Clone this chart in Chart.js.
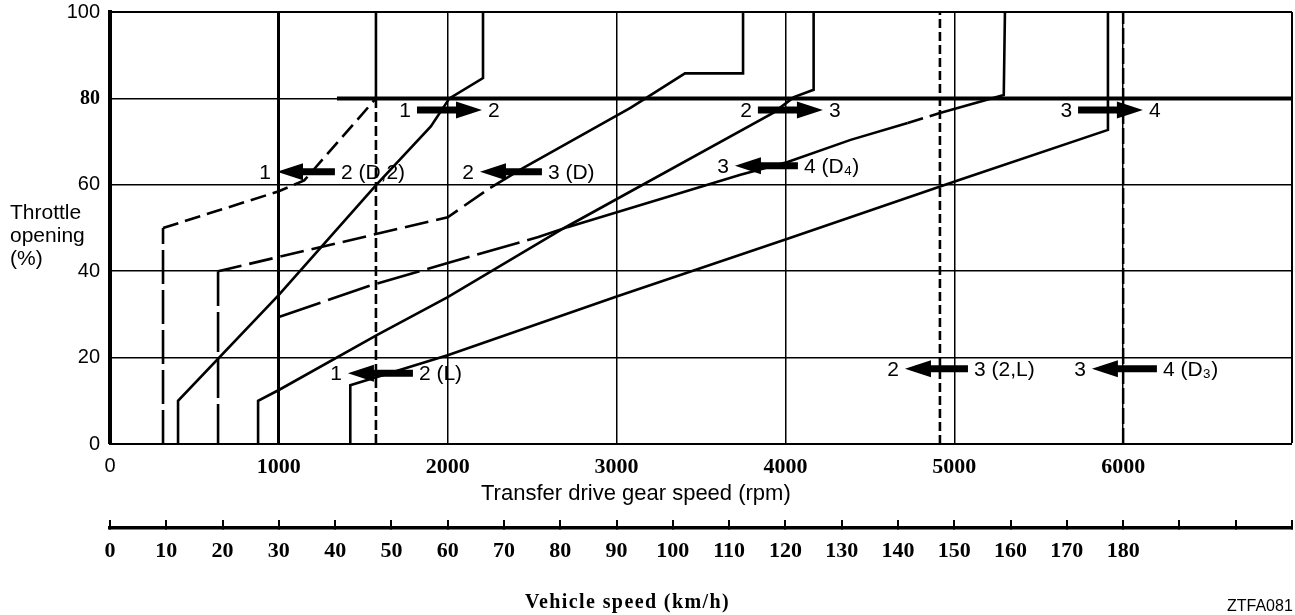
<!DOCTYPE html>
<html>
<head>
<meta charset="utf-8">
<script src="https://cdn.jsdelivr.net/npm/chart.js@4.4.1/dist/chart.umd.min.js"></script>
<style>
  html, body { margin: 0; padding: 0; background: #fff; }
  #wrap { position: relative; width: 1295px; height: 615px; }
  #shiftChart { display: block; }
  .cap { position: absolute; color: #000; white-space: nowrap; }
</style>
</head>
<body>
<div id="wrap">
  <canvas id="shiftChart" width="1295" height="615"></canvas>
  <div class="cap" style="left:10px;top:200px;font:21px/23px 'Liberation Sans',Arial,sans-serif;">Throttle<br>opening<br>(%)</div>
  <div class="cap" style="left:481px;top:480px;font:22px/26px 'Liberation Sans',Arial,sans-serif;">Transfer drive gear speed (rpm)</div>
  <div class="cap" style="left:525px;top:590px;font:bold 20px/22px 'Liberation Serif',serif;letter-spacing:1.4px;">Vehicle speed (km/h)</div>
  <div class="cap" style="left:1227px;top:597px;font:16px/18px 'Liberation Sans',Arial,sans-serif;">ZTFA081</div>
</div>
<script>
// 📊 AXES
const rpmTicks = [0, 1000, 2000, 3000, 4000, 5000, 6000, 7000];
const rpmTickLabels = ['0', '1000', '2000', '3000', '4000', '5000', '6000', ''];
const throttleTicks = [0, 20, 40, 60, 80, 100];
const kmhTicks = [0, 10, 20, 30, 40, 50, 60, 70, 80, 90, 100, 110, 120, 130, 140, 150, 160, 170, 180, 190, 200, 210];
const kmhTickLabels = ['0', '10', '20', '30', '40', '50', '60', '70', '80', '90', '100', '110', '120', '130', '140', '150', '160', '170', '180', '', '', ''];
const KMH_PER_RPM = 0.03;

// 🔧 SHIFT LINES  [rpm, throttle %]
const up12 = [[403, 0], [403, 10], [1000, 34.5], [1577, 60], [1900, 73.5], [2010, 80], [2209, 84.7], [2209, 100]];
const down12 = [[314, 50], [1000, 58.5], [1150, 61], [1575, 80]];
const down12Base = [[314, 0], [314, 50]];
const down12L = [[1575, 0], [1575, 80]];
const down12Top = [[1575, 80], [1575, 100]];

const up23 = [[877, 0], [877, 10], [1000, 12.5], [1580, 25.2], [2000, 34], [2690, 50], [3930, 76.7], [4050, 80.3], [4167, 82], [4167, 100]];
const down23Base = [[640, 0], [640, 40]];
const down23 = [[640, 40], [2000, 52.5], [2252, 59.3]];
const down23Top = [[2252, 59.3], [2448, 63.9], [3082, 77.8], [3183, 80.3], [3405, 85.8], [3749, 85.8], [3749, 100]];
const down23L = [[4915, 0], [4915, 100]];

const up34 = [[1423, 0], [1423, 13.6], [2004, 20.6], [3005, 34.2], [4013, 47.5], [5020, 61], [5910, 72.7], [5910, 100]];
const down34Low = [[1000, 29.4], [1520, 36.4], [2000, 41.9], [2537, 47.9], [2709, 50.2]];
const down34Mid = [[2709, 50.2], [3734, 62.3], [4013, 65.3], [4386, 70.4], [4724, 74.3]];
const down34Gap = [[4724, 74.3], [4915, 76.6]];
const down34Top = [[4915, 76.6], [5293, 80.8], [5300, 100]];
const down34D3 = [[6000, 0], [6000, 100]];
const limit80 = [[1344, 80], [7000, 80]];

// ➡️ SHIFT ARROWS
const arrowTail = [1818, 1332, 2558, 3837, 4074, 5733, 1794, 5081, 6200];
const arrowTip = [2203, 989, 2191, 4222, 3701, 6117, 1409, 4708, 5815];
const arrowThrottle = [77.3, 63, 63, 77.3, 64.4, 77.3, 16.4, 17.4, 17.4];
const arrowTailText = ['1', '2 (D,2)', '3 (D)', '2', '4 (D\u2084)', '3', '2 (L)', '3 (2,L)', '4 (D\u2083)'];
const arrowTipText = ['2', '1', '2', '3', '3', '4', '1', '2', '3'];

const SANS = '"Liberation Sans", Arial, sans-serif';
const SERIF = '"Liberation Serif", "Times New Roman", serif';
const sansTick = { family: SANS, size: 20 };
const serifTick = { family: SERIF, size: 22, weight: 'bold' };

function line(points, dash, width) {
  return {
    data: points,
    showLine: true,
    borderColor: '#000',
    borderWidth: width || 2.6,
    borderDash: dash || [],
    pointRadius: 0,
    pointHoverRadius: 0,
    fill: false
  };
}

const datasets = [
  line(up12),
  line(down12, [16, 7]),
  line(down12Base, [34, 6]),
  line(down12L, [10, 4]),
  line(down12Top),
  line(up23),
  line(down23Base, [40, 6]),
  line(down23, [24, 8]),
  line(down23Top),
  line(down23L, [9, 4]),
  line(up34),
  line(down34Low, [44, 8]),
  line(down34Mid),
  line(down34Gap, [16, 7]),
  line(down34Top),
  line(down34D3, [16, 4], 2.5),
  line(limit80, [], 4)
];

// no extra label padding around the plot, the frame sits where the layout puts it
function noPad(s) {
  s.paddingLeft = 0;
  s.paddingRight = 0;
  s.paddingTop = 0;
  s.paddingBottom = 0;
}

// 🏹 ARROWS + LABELS
const arrowPlugin = {
  id: 'shiftArrows',
  afterDatasetsDraw(chart) {
    const { ctx, scales: { x, y } } = chart;
    ctx.save();
    ctx.fillStyle = '#000';
    ctx.font = '21px ' + SANS;
    ctx.textBaseline = 'middle';
    arrowTail.forEach((tail, i) => {
      const x0 = x.getPixelForValue(tail);
      const x1 = x.getPixelForValue(arrowTip[i]);
      const yc = y.getPixelForValue(arrowThrottle[i]);
      const dir = Math.sign(x1 - x0);
      const xb = x1 - dir * 26;
      ctx.beginPath();
      ctx.moveTo(x0, yc - 3.5);
      ctx.lineTo(xb, yc - 3.5);
      ctx.lineTo(xb, yc - 8.5);
      ctx.lineTo(x1, yc);
      ctx.lineTo(xb, yc + 8.5);
      ctx.lineTo(xb, yc + 3.5);
      ctx.lineTo(x0, yc + 3.5);
      ctx.closePath();
      ctx.fill();

      let leftText = dir > 0 ? arrowTailText[i] : arrowTipText[i];
      let rightText = dir > 0 ? arrowTipText[i] : arrowTailText[i];
      ctx.textAlign = 'right';
      ctx.fillText(leftText, Math.min(x0, x1) - 6, yc + 1);
      ctx.textAlign = 'left';
      ctx.fillText(rightText, Math.max(x0, x1) + 6, yc + 1);
    });
    ctx.restore();
  }
};

new Chart(document.getElementById('shiftChart'), {
  type: 'scatter',
  data: { datasets: datasets },
  options: {
    responsive: false,
    animation: false,
    devicePixelRatio: 1,
    layout: { padding: { top: 12, right: 3, bottom: 0, left: 0 } },
    plugins: { legend: { display: false }, tooltip: { enabled: false } },
    scales: {
      x: {
        type: 'linear',
        position: 'bottom',
        weight: 0,
        min: 0,
        max: 7000,
        afterBuildTicks: s => { s.ticks = rpmTicks.map(v => ({ value: v })); },
        afterFit: s => { s.height = 84; noPad(s); },
        ticks: {
          autoSkip: false,
          maxRotation: 0,
          padding: 10,
          color: '#000',
          font: c => (c.tick && c.tick.value === 0 ? sansTick : serifTick),
          callback: (v, i) => rpmTickLabels[i]
        },
        grid: {
          color: '#000',
          drawTicks: false,
          lineWidth: c => {
            let v = c.tick ? c.tick.value : -1;
            if (v === 0) return 0;
            if (v === 1000) return 3;
            if (v === 7000) return 2;
            return 1.5;
          }
        },
        border: { display: true, color: '#000', width: 2 }
      },
      x2: {
        type: 'linear',
        position: 'bottom',
        weight: 1,
        min: 0,
        max: 7000 * KMH_PER_RPM,
        afterBuildTicks: s => { s.ticks = kmhTicks.map(v => ({ value: v })); },
        afterFit: s => { s.height = 87; noPad(s); },
        ticks: {
          autoSkip: false,
          maxRotation: 0,
          padding: 18,
          color: '#000',
          font: serifTick,
          callback: (v, i) => kmhTickLabels[i]
        },
        grid: { drawOnChartArea: false, drawTicks: true, tickLength: -8, color: '#000', lineWidth: 2 },
        border: { display: true, color: '#000', width: 3.5 }
      },
      y: {
        type: 'linear',
        position: 'left',
        min: 0,
        max: 100,
        afterBuildTicks: s => { s.ticks = throttleTicks.map(v => ({ value: v })); },
        afterFit: s => { s.width = 110; noPad(s); },
        ticks: {
          padding: 10,
          color: '#000',
          font: c => (c.tick && c.tick.value === 80 ? { family: SERIF, size: 20, weight: 'bold' } : sansTick)
        },
        grid: {
          color: '#000',
          drawTicks: false,
          lineWidth: c => {
            let v = c.tick ? c.tick.value : -1;
            if (v === 0) return 0;
            if (v === 100) return 2;
            return 1.5;
          }
        },
        border: { display: true, color: '#000', width: 4 }
      }
    }
  },
  plugins: [arrowPlugin]
});
</script>
</body>
</html>
